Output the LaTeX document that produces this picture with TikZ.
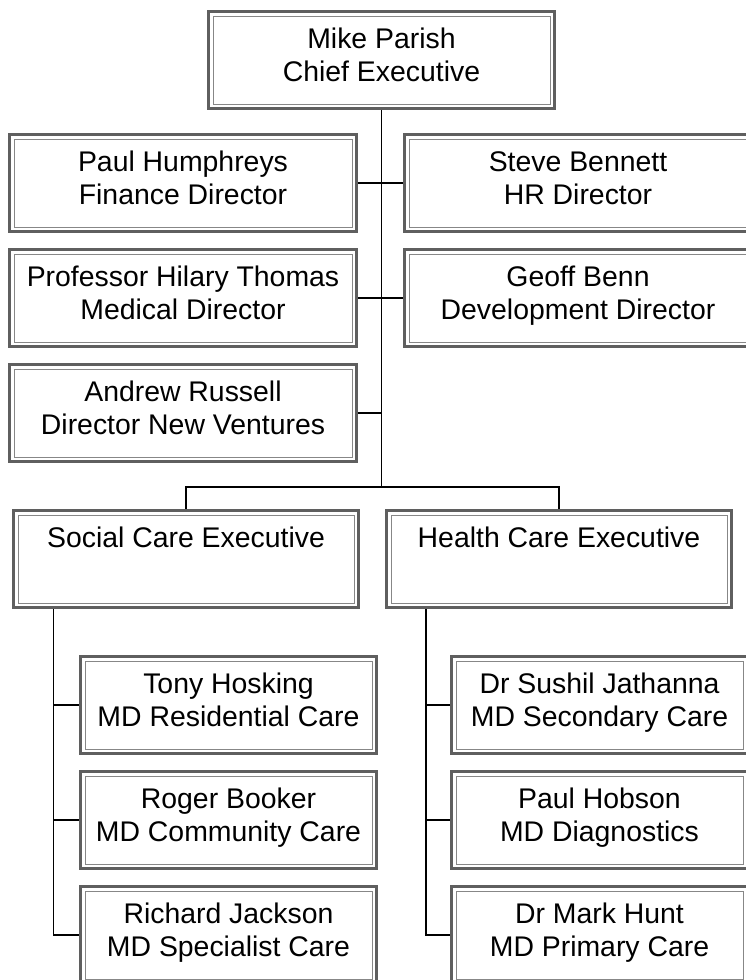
\documentclass[tikz,border=0pt]{standalone}
\usepackage{fontspec}
\setmainfont{Liberation Sans}
\usetikzlibrary{positioning,backgrounds}
\definecolor{rimgrey}{RGB}{95,95,95}
\definecolor{linegrey}{RGB}{135,135,135}
\tikzset{
  orgbox/.style={draw=rimgrey, line width=3pt, fill=white, align=center, inner sep=1pt,
    minimum width=#1, minimum height=97pt,
    execute at begin node=\strut, execute at end node={\rule[-3pt]{0pt}{3pt}},
    path picture={\draw[linegrey, line width=1pt]
      ([shift={(4.5pt,4.5pt)}]path picture bounding box.south west) rectangle
      ([shift={(-4.5pt,-4.5pt)}]path picture bounding box.north east);}},
  orgbox/.default=347pt,
  link/.style={draw=black, line width=1.3pt}
}

\begin{document}
\begin{tikzpicture}[x=1pt,y=1pt,font=\fontsize{28.4}{33}\selectfont]
 \useasboundingbox (0,0) rectangle (746,-980);
 % chief executive
 \node[orgbox=346pt] (chief) at (381.5,-60) {Mike Parish\\Chief Executive};
 % directors beside the trunk
 \node[orgbox] (finance) at (183,-183) {Paul Humphreys\\Finance Director};
 \node[orgbox] (hr) at (578,-183) {Steve Bennett\\HR Director};
 \node[orgbox] (medical) at (183,-298) {Professor Hilary Thomas\\Medical Director};
 \node[orgbox] (develop) at (578,-298) {Geoff Benn\\Development Director};
 \node[orgbox] (ventures) at (183,-413) {Andrew Russell\\Director New Ventures};
 % the two executives
 \node[orgbox=345pt] (social) at (186,-559) {Social Care Executive\\~};
 \node[orgbox=345pt] (health) at (559,-559) {Health Care Executive\\~};
 % managing directors, social care
 \node[orgbox=296pt] (residential) at (228.5,-705) {Tony Hosking\\MD Residential Care};
 \node[orgbox=296pt] (community) at (228.5,-820) {Roger Booker\\MD Community Care};
 \node[orgbox=296pt] (specialist) at (228.5,-935) {Richard Jackson\\MD Specialist Care};
 % managing directors, health care
 \node[orgbox=296pt] (secondary) at (599.5,-705) {Dr Sushil Jathanna\\MD Secondary Care};
 \node[orgbox=296pt] (diagnostics) at (599.5,-820) {Paul Hobson\\MD Diagnostics};
 \node[orgbox=296pt] (primary) at (599.5,-935) {Dr Mark Hunt\\MD Primary Care};
 % connectors behind the boxes
 \begin{scope}[on background layer]
  \coordinate (fork) at (chief.south |- 0,-487);
  \coordinate (socbus) at ([xshift=41.5pt]social.south west);
  \coordinate (healthbus) at ([xshift=41pt]health.south west);
  \draw[link] (chief.south) -- (fork);
  \draw[link] (finance.east) -- (hr.west);
  \draw[link] (medical.east) -- (develop.west);
  \draw[link] (ventures.east) -- (ventures.east -| chief.south);
  \draw[link] (social.north) |- (fork) -| (health.north);
  \draw[link] (socbus) |- (residential.west);
  \draw[link] (socbus) |- (community.west);
  \draw[link] (socbus) |- (specialist.west);
  \draw[link] (healthbus) |- (secondary.west);
  \draw[link] (healthbus) |- (diagnostics.west);
  \draw[link] (healthbus) |- (primary.west);
 \end{scope}
\end{tikzpicture}
\end{document}
